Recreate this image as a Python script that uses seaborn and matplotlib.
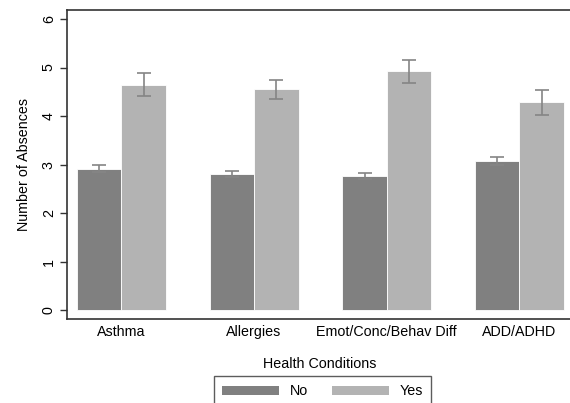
import pandas as pd
import numpy as np
import matplotlib.pyplot as plt
import seaborn as sns

conditions = ["Asthma", "Allergies", "Emot/Conc/Behav Diff", "ADD/ADHD"]
groups = ["No", "Yes"]
mean_no = [2.92, 2.81, 2.76, 3.07]
mean_yes = [4.65, 4.55, 4.92, 4.28]
err_no = [0.07, 0.06, 0.06, 0.08]
err_yes = [0.23, 0.20, 0.23, 0.26]

colors = {"No": "#808080", "Yes": "#b3b3b3"}


def build_frame():
    rows = []
    for i, cond in enumerate(conditions):
        rows.append({"Condition": cond, "Group": "No", "Mean": mean_no[i], "Err": err_no[i]})
        rows.append({"Condition": cond, "Group": "Yes", "Mean": mean_yes[i], "Err": err_yes[i]})
    return pd.DataFrame(rows)


df = build_frame()

sns.set_style("white")
plt.rcParams["font.family"] = ["Liberation Sans", "DejaVu Sans"]
plt.rcParams["text.color"] = "black"
plt.rcParams["axes.labelcolor"] = "black"
plt.rcParams["xtick.color"] = "black"
plt.rcParams["ytick.color"] = "black"
fs = 10.3

fig = plt.figure(figsize=(5.7, 4.03), dpi=100)
ax = fig.add_axes([0.1175, 0.2077, 0.887, 0.7687])

sns.barplot(data=df, x="Condition", y="Mean", hue="Group", order=conditions,
            hue_order=groups, palette=colors, width=0.67, errorbar=None,
            saturation=1, edgecolor="white", linewidth=0.6, legend=False, ax=ax)

# error bars on top of each bar
for container, g in zip(ax.containers, groups):
    sub = df[df["Group"] == g].set_index("Condition").loc[conditions]
    xs = [p.get_x() + p.get_width() / 2 for p in container.patches]
    ax.errorbar(xs, sub["Mean"], yerr=sub["Err"], fmt="none", ecolor="#858585",
                elinewidth=1.2, capsize=5, capthick=1.2, zorder=5)

ax.set_xlim(-0.41, 3.40)
ax.set_ylim(-0.185, 6.195)
ax.set_yticks(range(0, 7))
ax.tick_params(axis="y", labelrotation=90, length=5, width=1, color="#333333",
               labelsize=fs, pad=3, left=True)
ax.tick_params(axis="x", length=0, labelsize=fs, pad=4)
for lab in ax.get_yticklabels():
    lab.set_va("center")
ax.set_ylabel("Number of Absences", fontsize=fs, labelpad=8)
ax.set_xlabel("Health Conditions", fontsize=fs, labelpad=13)

for side in ["left", "bottom", "top"]:
    ax.spines[side].set_visible(True)
    ax.spines[side].set_color("#333333")
    ax.spines[side].set_linewidth(1.2)
ax.spines["right"].set_visible(False)

handles = [plt.Rectangle((0, 0), 1, 1, facecolor=colors[g], edgecolor="none") for g in groups]
leg = fig.legend(handles, groups, loc="upper left", bbox_to_anchor=(0.375, 0.066),
                 ncol=2, frameon=True, fancybox=False, fontsize=fs,
                 handlelength=4.0, handleheight=0.6, columnspacing=1.7,
                 borderpad=0.55, handletextpad=0.75, borderaxespad=0)
leg.get_frame().set_edgecolor("#333333")
leg.get_frame().set_linewidth(1.0)

fig.savefig("out.png", dpi=100)
